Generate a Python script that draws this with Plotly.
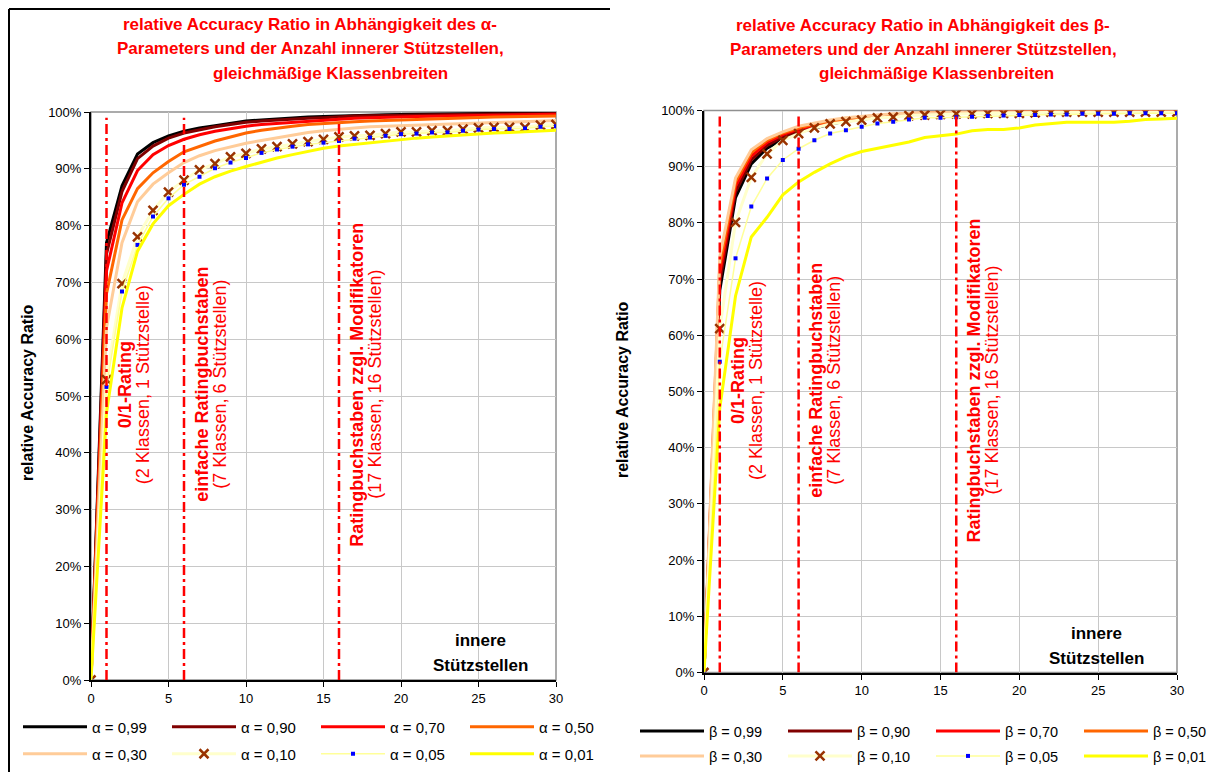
import plotly.graph_objects as go

# ---------------- data ----------------
x_vals = list(range(31))
param_labels = ["0,99", "0,90", "0,70", "0,50", "0,30", "0,10", "0,05", "0,01"]

# relative Accuracy Ratio (%), alpha parameter (left chart)
a099 = [0, 77, 87, 92.6, 94.6, 95.8, 96.6, 97.2, 97.6, 98.0, 98.4, 98.6, 98.8, 99.0, 99.1, 99.2, 99.3, 99.4, 99.45, 99.5, 99.55, 99.6, 99.6, 99.65, 99.7, 99.7, 99.75, 99.75, 99.8, 99.8, 99.8]
a090 = [0, 75, 86, 91.8, 94.0, 95.4, 96.3, 96.9, 97.4, 97.8, 98.2, 98.4, 98.6, 98.8, 98.9, 99.0, 99.2, 99.3, 99.35, 99.4, 99.45, 99.5, 99.5, 99.55, 99.6, 99.6, 99.65, 99.65, 99.7, 99.7, 99.7]
a070 = [0, 72, 84, 89.7, 92.5, 94.1, 95.2, 96.0, 96.6, 97.1, 97.5, 97.8, 98.0, 98.2, 98.4, 98.6, 98.8, 98.9, 99.0, 99.1, 99.15, 99.2, 99.25, 99.3, 99.35, 99.4, 99.45, 99.5, 99.5, 99.55, 99.6]
a050 = [0, 68, 81, 86.5, 89.3, 91.3, 93.0, 94.0, 94.9, 95.6, 96.3, 96.8, 97.2, 97.5, 97.8, 98.0, 98.2, 98.3, 98.4, 98.5, 98.6, 98.7, 98.8, 98.9, 99.0, 99.05, 99.1, 99.15, 99.2, 99.25, 99.3]
a030 = [0, 62, 77, 84.2, 87.3, 89.3, 91.1, 92.3, 93.2, 93.9, 94.5, 95.0, 95.5, 96.0, 96.4, 96.7, 97.0, 97.2, 97.4, 97.5, 97.6, 97.7, 97.8, 97.9, 98.0, 98.1, 98.2, 98.3, 98.35, 98.4, 98.5]
a010 = [0, 52.9, 69.8, 78.0, 82.7, 85.9, 88.0, 89.8, 90.9, 92.1, 92.7, 93.5, 93.9, 94.4, 94.8, 95.2, 95.6, 95.8, 95.9, 96.2, 96.5, 96.5, 96.7, 96.7, 97.0, 97.2, 97.3, 97.3, 97.3, 97.7, 97.8]
a005 = [0, 51.6, 68.4, 76.6, 81.6, 84.8, 87.2, 88.6, 90.1, 91.1, 91.9, 92.8, 93.4, 93.9, 94.3, 94.6, 94.9, 95.3, 95.5, 95.8, 96.1, 96.2, 96.4, 96.4, 96.7, 96.9, 97.0, 97.0, 97.1, 97.4, 97.5]
a001 = [0, 47, 65.5, 75.5, 80.3, 83.5, 85.5, 87.3, 88.6, 89.6, 90.4, 91.2, 91.9, 92.5, 93.1, 93.6, 94.0, 94.3, 94.6, 94.9, 95.2, 95.4, 95.6, 95.8, 96.0, 96.2, 96.3, 96.4, 96.5, 96.6, 96.8]

# relative Accuracy Ratio (%), beta parameter (right chart)
b099 = [0, 68, 84.5, 90.5, 93.3, 94.9, 96.1, 96.9, 97.6, 98.1, 98.5, 98.8, 99.1, 99.3, 99.4, 99.5, 99.55, 99.6, 99.65, 99.7, 99.7, 99.75, 99.75, 99.8, 99.8, 99.8, 99.85, 99.85, 99.85, 99.9, 99.9]
b090 = [0, 69.5, 85.5, 91.2, 93.8, 95.3, 96.4, 97.2, 97.8, 98.3, 98.6, 98.9, 99.2, 99.35, 99.45, 99.55, 99.6, 99.65, 99.7, 99.7, 99.75, 99.75, 99.8, 99.8, 99.8, 99.85, 99.85, 99.85, 99.9, 99.9, 99.9]
b070 = [0, 71, 86.5, 91.9, 94.3, 95.7, 96.7, 97.4, 98.0, 98.4, 98.75, 99.0, 99.25, 99.4, 99.5, 99.6, 99.65, 99.7, 99.7, 99.75, 99.75, 99.8, 99.8, 99.8, 99.85, 99.85, 99.85, 99.9, 99.9, 99.9, 99.9]
b050 = [0, 72.5, 87.3, 92.5, 94.7, 96.0, 96.9, 97.6, 98.1, 98.5, 98.85, 99.1, 99.3, 99.45, 99.55, 99.65, 99.7, 99.7, 99.75, 99.75, 99.8, 99.8, 99.8, 99.85, 99.85, 99.85, 99.9, 99.9, 99.9, 99.9, 99.9]
b030 = [0, 74, 88, 93, 95, 96.2, 97.2, 97.8, 98.3, 98.7, 99.0, 99.2, 99.4, 99.5, 99.6, 99.7, 99.7, 99.75, 99.75, 99.8, 99.8, 99.8, 99.85, 99.85, 99.85, 99.9, 99.9, 99.9, 99.9, 99.9, 99.9]
b010 = [0, 61.2, 80.1, 88.1, 92.3, 94.7, 95.9, 96.9, 97.6, 98.0, 98.3, 98.7, 98.8, 99.1, 99.2, 99.3, 99.4, 99.4, 99.5, 99.5, 99.5, 99.6, 99.7, 99.7, 99.7, 99.7, 99.7, 99.7, 99.7, 99.7, 99.7]
b005 = [0, 55.3, 73.7, 82.9, 87.9, 91.2, 93.2, 94.7, 95.9, 96.5, 97.1, 97.7, 98.0, 98.4, 98.7, 98.7, 98.8, 98.9, 99.0, 99.1, 99.2, 99.2, 99.3, 99.3, 99.4, 99.4, 99.4, 99.5, 99.5, 99.5, 99.5]
b001 = [0, 47, 67, 77.5, 81, 85, 87.3, 89, 90.5, 91.8, 92.7, 93.3, 93.9, 94.4, 95.2, 95.5, 95.8, 96.4, 96.6, 96.6, 96.9, 97.4, 97.6, 97.9, 97.9, 97.9, 97.9, 98.1, 98.4, 98.5, 98.6]

alpha_series = [a099, a090, a070, a050, a030, a010, a005, a001]
beta_series = [b099, b090, b070, b050, b030, b010, b005, b001]

divider_positions = [1, 6, 16]
divider_bold = ["0/1-Rating", "einfache Ratingbuchstaben", "Ratingbuchstaben zzgl. Modifikatoren"]
divider_normal = ["(2 Klassen, 1 Stützstelle)", "(7 Klassen, 6 Stützstellen)", "(17 Klassen, 16 Stützstellen)"]

title_lines = ["relative Accuracy Ratio in Abhängigkeit des {p}-",
               "Parameters und der Anzahl innerer Stützstellen,",
               "gleichmäßige Klassenbreiten"]
y_title = "relative Accuracy Ratio"
x_note = ["innere", "Stützstellen"]

# ---------------- styling ----------------
# the page body adds an 8px margin, so the figure is drawn 8px smaller and
# reference pixel positions are shifted by that offset
OFF = 8
W, H = 1210, 764
FONT = "Liberation Sans, Arial, sans-serif"
RED = "#FF0000"

def px_x(p):
    return (p - OFF) / W

def px_y(p):
    return 1 - (p - OFF) / H

series_styles = [
    dict(mode="lines", line=dict(color="#000000", width=3)),
    dict(mode="lines", line=dict(color="#800000", width=3)),
    dict(mode="lines", line=dict(color="#FF0000", width=3)),
    dict(mode="lines", line=dict(color="#FF6600", width=3)),
    dict(mode="lines", line=dict(color="#FFCC99", width=3)),
    dict(mode="lines+markers", line=dict(color="#FFFFCC", width=3),
         marker=dict(symbol="x-thin-open", size=9, color="#993300",
                     line=dict(width=2.5, color="#993300"))),
    dict(mode="lines+markers", line=dict(color="#FFFF99", width=1.5),
         marker=dict(symbol="square", size=4, color="#0000FF", line=dict(width=0))),
    dict(mode="lines", line=dict(color="#FFFF00", width=3)),
]

fig = go.Figure()

charts = [
    dict(series=alpha_series, sym="α", xa="x", ya="y", legends=("legend", "legend2")),
    dict(series=beta_series, sym="β", xa="x2", ya="y2", legends=("legend3", "legend4")),
]

for ch in charts:
    for i, (vals, lab, st) in enumerate(zip(ch["series"], param_labels, series_styles)):
        fig.add_trace(go.Scatter(
            x=x_vals, y=[v / 100 for v in vals],
            name=f"{ch['sym']} = {lab}",
            xaxis=ch["xa"], yaxis=ch["ya"],
            legend=ch["legends"][0] if i < 4 else ch["legends"][1],
            hoverinfo="skip",
            **st))

axis_common = dict(showline=True, linecolor="black", linewidth=2, mirror=False,
                   ticks="outside", ticklen=5, tickcolor="black", tickwidth=1,
                   showgrid=True, gridcolor="#C8C8C8", gridwidth=1, zeroline=False,
                   tickfont=dict(family=FONT, size=13, color="black"))

fig.update_layout(
    width=W, height=H,
    margin=dict(l=0, r=0, t=0, b=0, autoexpand=False),
    paper_bgcolor="white", plot_bgcolor="white",
    font=dict(family=FONT, color="black"),
    xaxis=dict(domain=[px_x(91), px_x(556)], range=[0, 30], dtick=5, anchor="y", **axis_common),
    yaxis=dict(domain=[px_y(680), px_y(112)], range=[0, 1], dtick=0.1, tickformat=".0%", anchor="x", **axis_common),
    xaxis2=dict(domain=[px_x(704), px_x(1177)], range=[0, 30], dtick=5, anchor="y2", **axis_common),
    yaxis2=dict(domain=[px_y(672.5), px_y(110.5)], range=[0, 1], dtick=0.1, tickformat=".0%", anchor="x2", **axis_common),
)

legend_common = dict(orientation="h", entrywidthmode="pixels", itemwidth=64,
                     bgcolor="rgba(0,0,0,0)", xanchor="left", yanchor="middle",
                     itemclick=False, itemdoubleclick=False, traceorder="normal")
left_font = dict(family=FONT, size=15, color="black")
right_font = dict(family=FONT, size=14.5, color="black")
fig.update_layout(
    legend=dict(x=px_x(18), y=px_y(727), entrywidth=70, font=left_font, **legend_common),
    legend2=dict(x=px_x(18), y=px_y(754), entrywidth=70, font=left_font, **legend_common),
    legend3=dict(x=px_x(635), y=px_y(731), entrywidth=69, font=right_font, **legend_common),
    legend4=dict(x=px_x(635), y=px_y(756), entrywidth=69, font=right_font, **legend_common),
)

shapes = []
annotations = []

# plot-area borders (grey, top/right)
for xa, ya in [("x", "y"), ("x2", "y2")]:
    shapes.append(dict(type="rect", xref=f"{xa} domain", yref=f"{ya} domain",
                       x0=0, x1=1, y0=0, y1=1, line=dict(color="#909090", width=1.5),
                       layer="below"))

# vertical dash-dot divider lines and their labels
for (xa, ya, note_shift) in [("x", "y", -76), ("x2", "y2", -81)]:
    for pos, bt, nt in zip(divider_positions, divider_bold, divider_normal):
        shapes.append(dict(type="line", xref=xa, yref=ya, x0=pos, x1=pos, y0=0, y1=0.99,
                           line=dict(color=RED, width=2.5, dash="10px,4px,3px,4px")))
        annotations.append(dict(xref=xa, yref=ya, x=pos, y=0.52, xshift=18, text=bt,
                                textangle=-90, showarrow=False, xanchor="center", yanchor="middle",
                                font=dict(family=FONT, size=18, color=RED, weight="bold")))
        annotations.append(dict(xref=xa, yref=ya, x=pos, y=0.52, xshift=36, text=nt,
                                textangle=-90, showarrow=False, xanchor="center", yanchor="middle",
                                font=dict(family=FONT, size=18, color=RED)))
    # "innere Stützstellen"
    for txt, py in zip(x_note, [0.069, 0.025]):
        annotations.append(dict(xref=xa, yref=ya, x=30, y=py, xshift=note_shift, text=f"<b>{txt}</b>",
                                showarrow=False, xanchor="center", yanchor="middle",
                                font=dict(family=FONT, size=17, color="black")))

# titles
title_pos = [
    ("α", [(310, 24), (310, 49), (330, 74)]),
    ("β", [(923, 25.5), (923, 49.5), (936, 73.5)]),
]
for sym, pts in title_pos:
    for line_txt, (cx, cy) in zip(title_lines, pts):
        annotations.append(dict(xref="paper", yref="paper", x=px_x(cx), y=px_y(cy),
                                text=f"<b>{line_txt.format(p=sym)}</b>", showarrow=False,
                                xanchor="center", yanchor="middle",
                                font=dict(family=FONT, size=17, color=RED)))

# y axis titles
for cx, cy in [(27, 393), (622, 390)]:
    annotations.append(dict(xref="paper", yref="paper", x=px_x(cx), y=px_y(cy),
                            text=f"<b>{y_title}</b>", textangle=-90, showarrow=False,
                            xanchor="center", yanchor="middle",
                            font=dict(family=FONT, size=16, color="black")))

# outer frame of the left chart
shapes.append(dict(type="line", xref="paper", yref="paper", x0=px_x(9), x1=px_x(610),
                   y0=px_y(9), y1=px_y(9), line=dict(color="black", width=2)))
shapes.append(dict(type="line", xref="paper", yref="paper", x0=px_x(9), x1=px_x(9),
                   y0=px_y(9), y1=0, line=dict(color="black", width=2)))

fig.update_layout(shapes=shapes, annotations=annotations)

fig.write_html("out.html")
